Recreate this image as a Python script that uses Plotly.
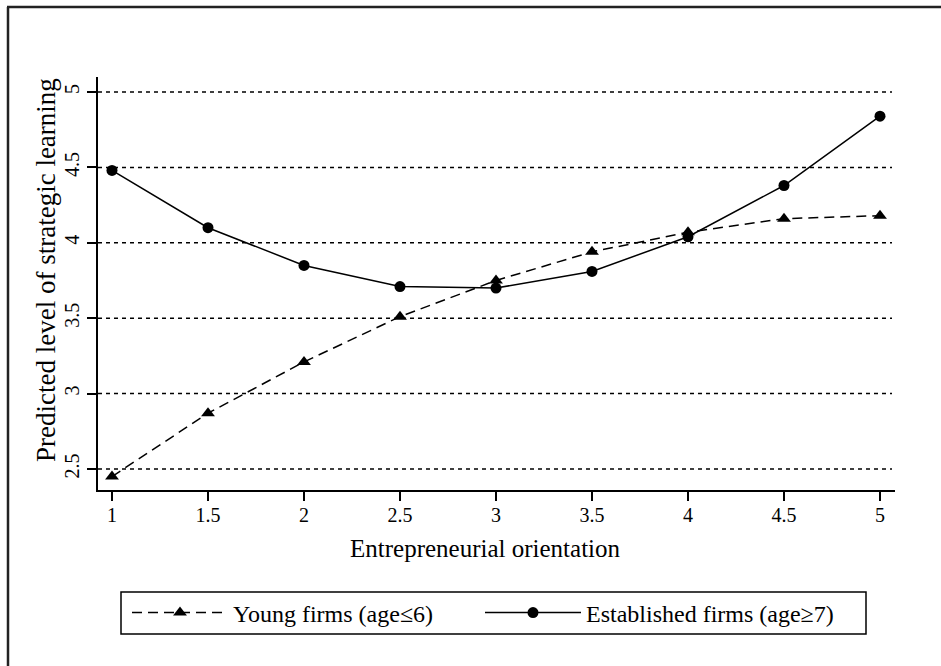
import plotly.graph_objects as go

eo = [1, 1.5, 2, 2.5, 3, 3.5, 4, 4.5, 5]
young = [2.45, 2.87, 3.21, 3.51, 3.75, 3.94, 4.07, 4.16, 4.18]
established = [4.48, 4.10, 3.85, 3.71, 3.70, 3.81, 4.04, 4.38, 4.84]
x_ticks = [1, 1.5, 2, 2.5, 3, 3.5, 4, 4.5, 5]
x_ticktext = ["1", "1.5", "2", "2.5", "3", "3.5", "4", "4.5", "5"]
y_ticks = [2.5, 3, 3.5, 4, 4.5, 5]
y_ticktext = ["2.5", "3", "3.5", "4", "4.5", "5"]
x_title = "Entrepreneurial orientation"
y_title = "Predicted level of strategic learning"

FONT = "Liberation Serif"
W, H = 941, 666
L, R, T, B = 98, 46, 77, 176
pw, ph = W - L - R, H - T - B

def px_x(p):
    return (p - L) / pw

def px_y(p):
    return (H - B - p) / ph

fig = go.Figure()

fig.add_trace(go.Scatter(
    x=eo, y=young, mode="lines+markers", name="Young firms (age≤6)",
    line=dict(color="black", width=1.5, dash="10px,6px"),
    marker=dict(symbol="triangle-up", size=12, color="black"),
    legend="legend",
))
fig.add_trace(go.Scatter(
    x=eo, y=established, mode="lines+markers", name="Established firms (age≥7)",
    line=dict(color="black", width=1.5),
    marker=dict(symbol="circle", size=11, color="black"),
    legend="legend2",
))

shapes = []
for v in y_ticks:
    shapes.append(dict(type="line", xref="paper", yref="y", x0=0, x1=px_x(892), y0=v, y1=v,
                       line=dict(color="black", width=1.5, dash="4px,4px"), layer="below"))
shapes.append(dict(type="line", xref="paper", yref="paper", x0=px_x(8), x1=px_x(8),
                   y0=px_y(7), y1=px_y(H + 5), line=dict(color="#222", width=2.5)))
shapes.append(dict(type="line", xref="paper", yref="paper", x0=px_x(7), x1=px_x(W + 5),
                   y0=px_y(7), y1=px_y(7), line=dict(color="#222", width=2.5)))
shapes.append(dict(type="rect", xref="paper", yref="paper", x0=px_x(121), x1=px_x(866),
                   y0=px_y(592), y1=px_y(634), line=dict(color="black", width=1.5),
                   fillcolor="rgba(0,0,0,0)"))

annotations = [
    dict(text=x_title, xref="paper", yref="paper", x=px_x(485), y=px_y(548),
         xanchor="center", yanchor="middle", showarrow=False,
         font=dict(family=FONT, size=25, color="black")),
    dict(text=y_title, xref="paper", yref="paper", x=px_x(46), y=px_y(270),
         xanchor="center", yanchor="middle", showarrow=False, textangle=-90,
         font=dict(family=FONT, size=27, color="black")),
]

legend_common = dict(orientation="h", yanchor="middle", xanchor="left",
                     font=dict(family=FONT, size=24, color="black"),
                     itemwidth=96, bgcolor="rgba(0,0,0,0)", borderwidth=0)

fig.update_layout(
    width=W, height=H,
    margin=dict(l=L, r=R, t=T, b=B),
    paper_bgcolor="white", plot_bgcolor="white",
    font=dict(family=FONT, color="black", size=20),
    shapes=shapes,
    annotations=annotations,
    showlegend=True,
    legend=dict(x=px_x(127), y=px_y(613), **legend_common),
    legend2=dict(x=px_x(480), y=px_y(613), **legend_common),
    xaxis=dict(range=[1 - 14 / 192, 5 + 15 / 192], tickvals=x_ticks, ticktext=x_ticktext,
               showgrid=False, zeroline=False, showline=True, linecolor="black", linewidth=1.5,
               ticks="outside", ticklen=9, tickwidth=1.5, tickcolor="black",
               ticklabelstandoff=-3,
               tickfont=dict(size=20, family=FONT)),
    yaxis=dict(range=[2.5 - 21 / 150.8, 5 + 15 / 150.8], tickvals=y_ticks, ticktext=y_ticktext,
               showgrid=False, zeroline=False, showline=True, linecolor="black", linewidth=1.5,
               ticks="outside", ticklen=9, tickwidth=1.5, tickcolor="black", tickangle=-90,
               tickfont=dict(size=20, family=FONT)),
)

fig.write_html("out.html")
